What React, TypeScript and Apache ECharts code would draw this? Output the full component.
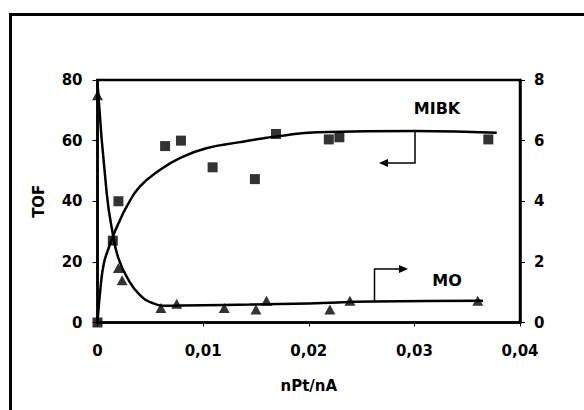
import React, { useEffect, useRef } from "react";
import * as echarts from "echarts";

const xTicks = [0, 0.01, 0.02, 0.03, 0.04];
const mibkPoints: [number, number][] = [
  [0, 0], [0.00145, 27], [0.00198, 40], [0.0064, 58.2], [0.0079, 60], [0.0109, 51.2],
  [0.0149, 47.3], [0.0169, 62.2], [0.0219, 60.4], [0.0229, 61.1], [0.037, 60.4],
];
const moPoints: [number, number][] = [
  [0, 7.5], [0.00198, 1.8], [0.00233, 1.39], [0.006, 0.48], [0.0075, 0.62], [0.012, 0.48],
  [0.015, 0.43], [0.016, 0.72], [0.022, 0.43], [0.0239, 0.72], [0.036, 0.72],
];
const mibkCurve: [number, number][] = [
  [0, 0], [0.0003, 12], [0.0006, 19.5], [0.001, 24], [0.0015, 28.8], [0.002, 32.8],
  [0.00276, 38.2], [0.004, 44.8], [0.0059, 50.3], [0.0078, 54.2], [0.0103, 57.5],
  [0.0135, 59.5], [0.0154, 60.6], [0.017, 61.4], [0.0208, 62.8], [0.03, 63.2], [0.0378, 62.6],
];
const moCurve: [number, number][] = [
  [0, 7.9], [0.00087, 4.27], [0.0015, 2.83], [0.002, 2.1], [0.00276, 1.51], [0.004, 0.91],
  [0.0053, 0.63], [0.0066, 0.55], [0.008, 0.56], [0.012, 0.58], [0.0144, 0.59],
  [0.02, 0.63], [0.0261, 0.69], [0.0365, 0.72],
];

const FONT = "'DejaVu Sans', 'Liberation Sans', Arial, sans-serif";

export default function App() {
  const ref = useRef<HTMLDivElement>(null);
  useEffect(() => {
    const chart = echarts.init(ref.current!, null, { renderer: "svg" });
    const labelStyle = { color: "#000", fontSize: 15, fontWeight: "bold" as const, fontFamily: FONT };
    chart.setOption({
      animation: false,
      backgroundColor: "#fff",
      grid: { left: 97.5, right: 64, top: 80, bottom: 87.5, show: true, borderColor: "#000", borderWidth: 2.5, backgroundColor: "transparent" },
      xAxis: {
        type: "value", min: xTicks[0], max: xTicks[xTicks.length - 1], interval: 0.01,
        name: "nPt/nA", nameLocation: "middle", nameGap: 56,
        nameTextStyle: { color: "#000", fontSize: 15, fontWeight: "bold", fontFamily: FONT },
        axisLine: { lineStyle: { color: "#000", width: 2.5 } },
        axisTick: { show: true, length: 4, lineStyle: { color: "#000", width: 1 } },
        axisLabel: { ...labelStyle, margin: 21, formatter: (v: number) => (v === 0 ? "0" : v.toFixed(2).replace(".", ",")) },
        splitLine: { show: false },
      },
      yAxis: [
        {
          type: "value", min: 0, max: 80, interval: 20, position: "left",
          name: "TOF", nameLocation: "middle", nameGap: 51, nameRotate: 90,
          nameTextStyle: { color: "#000", fontSize: 15, fontWeight: "bold", fontFamily: FONT },
          axisLine: { show: true, lineStyle: { color: "#000", width: 2.5 } },
          axisTick: { show: true, length: 5, lineStyle: { color: "#000", width: 1 } },
          axisLabel: { ...labelStyle, margin: 15 },
          splitLine: { show: false },
        },
        {
          type: "value", min: 0, max: 8, interval: 2, position: "right",
          axisLine: { show: true, lineStyle: { color: "#000", width: 2.5 } },
          axisTick: { show: true, length: 5, lineStyle: { color: "#000", width: 1 } },
          axisLabel: { ...labelStyle, margin: 14 },
          splitLine: { show: false },
        },
      ],
      series: [
        { type: "line", data: mibkCurve, smooth: true, showSymbol: false, yAxisIndex: 0, lineStyle: { color: "#000", width: 2.5 }, z: 2 },
        { type: "line", data: moCurve, smooth: true, showSymbol: false, yAxisIndex: 1, lineStyle: { color: "#000", width: 2.5 }, z: 2 },
        { type: "scatter", data: mibkPoints, symbol: "rect", symbolSize: 10, yAxisIndex: 0, clip: false, itemStyle: { color: "#000" }, z: 3 },
        { type: "scatter", data: moPoints, symbol: "triangle", symbolSize: [11, 10], yAxisIndex: 1, clip: false, itemStyle: { color: "#000" }, z: 3 },
      ],
      graphic: [
        { type: "rect", shape: { x: 10.5, y: 14.5, width: 620, height: 420 }, style: { fill: "none", stroke: "#000", lineWidth: 3 }, silent: true },
        { type: "text", x: 437, y: 108, style: { text: "MIBK", fill: "#000", font: `bold 16px ${FONT}`, textAlign: "center", textVerticalAlign: "middle" } },
        { type: "text", x: 447, y: 280, style: { text: "MO", fill: "#000", font: `bold 16px ${FONT}`, textAlign: "center", textVerticalAlign: "middle" } },
        { type: "polyline", shape: { points: [[415, 132], [415, 163], [386, 163]] }, style: { fill: "none", stroke: "#000", lineWidth: 1.5 } },
        { type: "polygon", shape: { points: [[379, 163], [388, 159], [388, 167]] }, style: { fill: "#000" } },
        { type: "polyline", shape: { points: [[374.5, 301], [374.5, 269], [401, 269]] }, style: { fill: "none", stroke: "#000", lineWidth: 1.5 } },
        { type: "polygon", shape: { points: [[408, 269], [399, 265], [399, 273]] }, style: { fill: "#000" } },
      ],
    });
    return () => chart.dispose();
  }, []);
  return <div ref={ref} style={{ position: "fixed", left: 0, top: 0, width: 584, height: 410 }} />;
}
